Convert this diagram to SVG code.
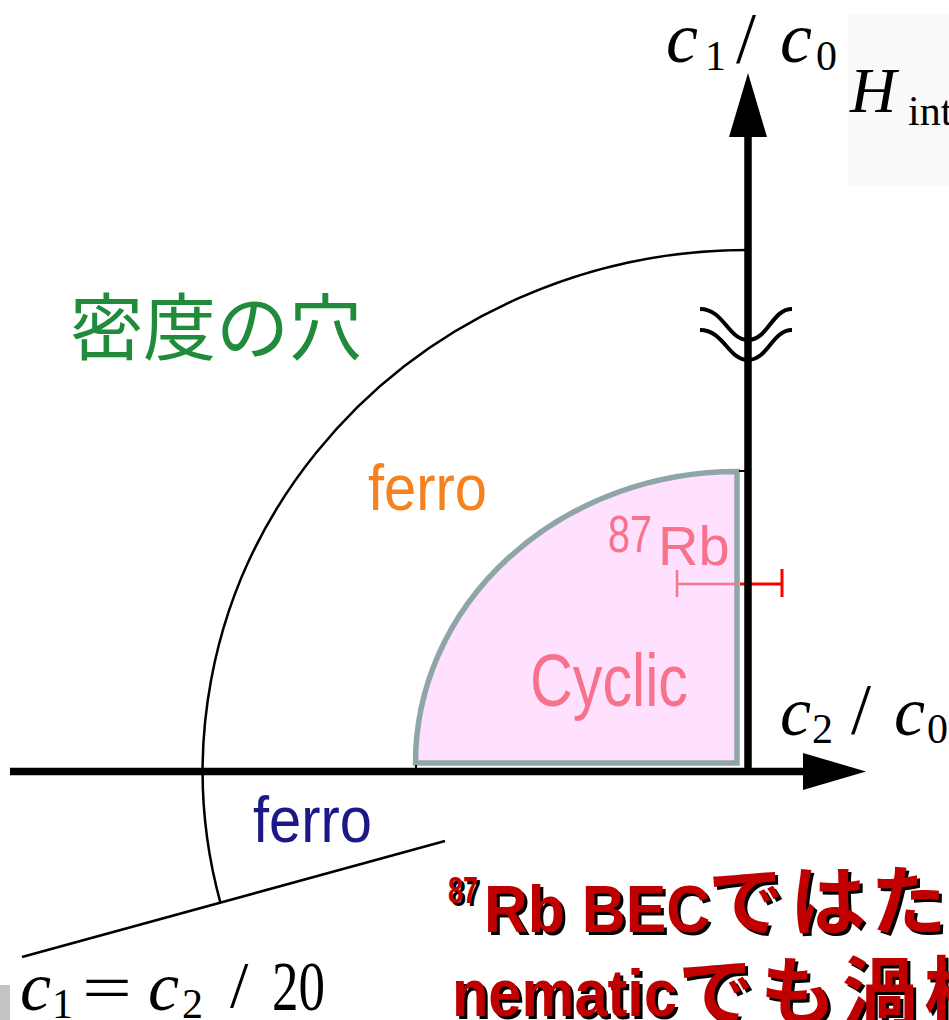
<svg xmlns="http://www.w3.org/2000/svg" width="949" height="1020" viewBox="0 0 949 1020">
<style>
.m{font-family:"Liberation Serif","DejaVu Serif",serif;fill:#000}
.mi{font-style:italic}
.s{font-family:"Liberation Sans",Arial,sans-serif}
.j{font-family:"Noto Sans CJK JP",sans-serif}
.b{font-family:"Liberation Sans","Noto Sans CJK JP",sans-serif;font-weight:bold}
.bj{font-family:"Noto Sans CJK JP",sans-serif;font-weight:bold}
.ax{stroke:#000;stroke-width:7.5;fill:none}
.thin{stroke:#000;stroke-width:2.5;fill:none}
.wave{stroke:#000;stroke-width:4;fill:none}
</style>
<defs>
<g id="rt">
<text class="b" x="448" y="903" font-size="36" textLength="30" lengthAdjust="spacingAndGlyphs">87</text>
<text class="b" x="484" y="932" font-size="66" textLength="226" lengthAdjust="spacingAndGlyphs">Rb BEC</text>
<text class="bj" x="708" y="929" font-size="76" letter-spacing="6">ではた</text>
<text class="b" x="452" y="1016" font-size="66" textLength="225" lengthAdjust="spacingAndGlyphs">nematic</text>
<text class="bj" x="678" y="1020" font-size="76" letter-spacing="6">でも渦核</text>
</g>
</defs>
<rect width="949" height="1020" fill="#fff"/>
<rect x="848" y="15" width="101" height="170" fill="#f9f9f9"/>
<rect x="0" y="985" width="10" height="35" fill="#c4c4c4"/>

<g id="hole-boundary">
<path class="thin" d="M748,250 A545,521 0 0 0 220.5,903"/>
</g>
<g id="cyclic-region">
<path d="M415.5,763 L737,763 L737,471.5 A321.5,291.5 0 0 0 415.5,763 Z" fill="#ffe1ff" stroke="#8fa6a8" stroke-width="5.5"/>
<text class="s" x="530" y="706" font-size="74" fill="#f7728a" textLength="158" lengthAdjust="spacingAndGlyphs">Cyclic</text>
</g>
<g id="rb87">
<text class="s" x="608" y="552" font-size="52" fill="#f7728a" textLength="44" lengthAdjust="spacingAndGlyphs">87</text>
<text class="s" x="658" y="565" font-size="56" fill="#f7728a">Rb</text>
<path d="M677,584 H737 M677,570 V597" stroke="#f4788a" stroke-width="2.5" fill="none"/>
<path d="M740,584 H782 M782,569 V597" stroke="#ff0000" stroke-width="3" fill="none"/>
</g>

<g id="connectors">
<line class="ax" x1="10" y1="771.5" x2="810" y2="771.5"/>
<polygon points="866,771.5 803,753 803,790" fill="#000"/>
<line class="ax" x1="748" y1="130" x2="748" y2="775"/>
<polygon points="748,73 729,137 767,137" fill="#000"/>
<path class="wave" d="M700,309 C724,309 728,340 748,340 C768,340 772,309 792,309"/>
<path class="wave" d="M700,330 C724,330 728,360 748,360 C768,360 772,330 792,330"/>
<line class="thin" x1="22" y1="957" x2="445" y2="841"/>
<line stroke="#000" stroke-width="2" x1="739" y1="471" x2="745" y2="471"/>
<line stroke="#000" stroke-width="2" x1="416" y1="765" x2="416" y2="768"/>
</g>

<g id="label-hole">
<text class="j" x="70" y="354" font-size="73" fill="#1f8b3b">密度の穴</text>
</g>
<g id="label-ferro-upper">
<text class="s" x="368" y="510" font-size="64" fill="#f5821f" textLength="119" lengthAdjust="spacingAndGlyphs">ferro</text>
</g>
<g id="label-ferro-lower">
<text class="s" x="253" y="842" font-size="64" fill="#1c1888" textLength="119" lengthAdjust="spacingAndGlyphs">ferro</text>
</g>

<g id="label-c1c0">
<text class="m mi" x="666" y="62" font-size="72">c</text>
<text class="m" x="705" y="70" font-size="42">1</text>
<text class="m" x="736" y="62" font-size="72">/</text>
<text class="m mi" x="780" y="62" font-size="72">c</text>
<text class="m" x="816" y="70" font-size="42">0</text>
</g>
<g id="label-hint">
<text class="m mi" x="850" y="112" font-size="64">H</text>
<text class="m" x="908" y="125" font-size="42">int</text>
</g>
<g id="label-c2c0">
<text class="m mi" x="780" y="735" font-size="70">c</text>
<text class="m" x="812" y="743" font-size="42">2</text>
<text class="m" x="851" y="733" font-size="72">/</text>
<text class="m mi" x="894" y="735" font-size="70">c</text>
<text class="m" x="927" y="743" font-size="42">0</text>
</g>
<g id="label-line">
<text class="m mi" x="20" y="1010" font-size="70">c</text>
<text class="m" x="52" y="1018" font-size="42">1</text>
<text class="m" x="82" y="1010" font-size="66" textLength="50" lengthAdjust="spacingAndGlyphs">=</text>
<text class="m mi" x="148" y="1010" font-size="70">c</text>
<text class="m" x="182" y="1018" font-size="42">2</text>
<text class="m" x="230" y="1007" font-size="66">/</text>
<text class="m" x="272" y="1010" font-size="70" textLength="53" lengthAdjust="spacingAndGlyphs">20</text>
</g>

<g id="note">
<use href="#rt" x="3" y="3" fill="#000"/>
<use href="#rt" fill="#c00000"/>
</g>
</svg>
